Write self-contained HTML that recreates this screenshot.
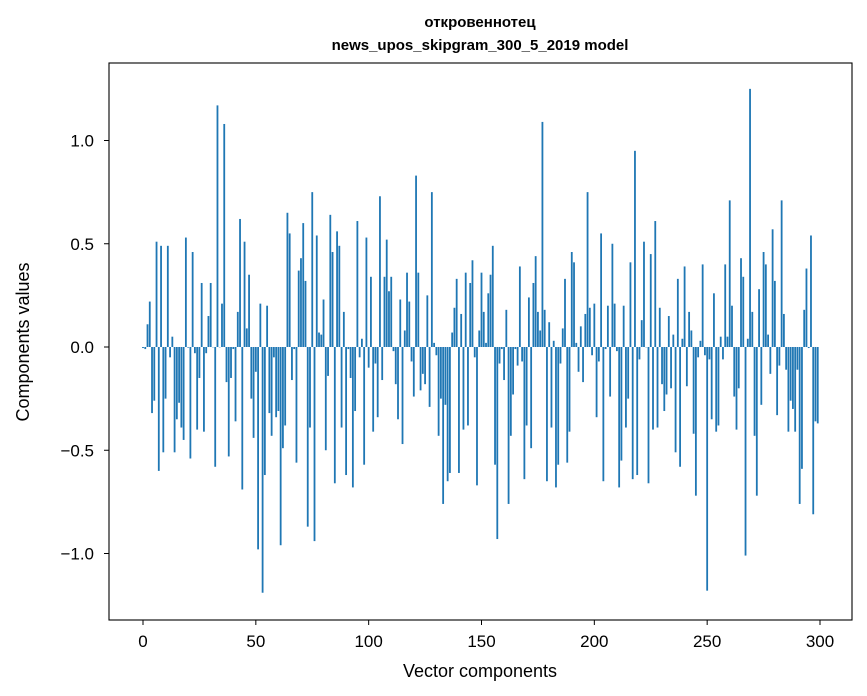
<!DOCTYPE html>
<html><head><meta charset="utf-8">
<style>
html,body{margin:0;padding:0;background:#fff;}
svg{display:block;font-family:"Liberation Sans","DejaVu Sans",sans-serif;}
</style></head>
<body>
<svg id="chart" width="867" height="696" viewBox="0 0 867 696" xmlns="http://www.w3.org/2000/svg">
<rect x="0" y="0" width="867" height="696" fill="#fff"/>
<g id="bars"></g>
<g id="axes"></g>
<text x="480" y="27" text-anchor="middle" font-size="15" font-weight="bold">откровеннотец</text>
<text x="480" y="50" text-anchor="middle" font-size="15" font-weight="bold">news_upos_skipgram_300_5_2019 model</text>
<text x="480" y="677" text-anchor="middle" font-size="18">Vector components</text>
<text transform="translate(29,342) rotate(-90)" text-anchor="middle" font-size="18">Components values</text>
</svg>
<script>
const values = [
-0.005,-0.01,0.11,0.22,-0.32,-0.26,0.51,-0.60,0.49,-0.51,
-0.25,0.49,-0.05,0.05,-0.51,-0.35,-0.27,-0.39,-0.45,0.53,
-0.003,-0.54,0.46,-0.03,-0.40,-0.15,0.31,-0.41,-0.03,0.15,
0.31,0.0,-0.58,1.17,0.0,0.21,1.08,-0.17,-0.53,-0.15,
-0.01,-0.36,0.17,0.62,-0.69,0.51,0.09,0.35,-0.25,-0.44,
-0.12,-0.98,0.21,-1.19,-0.62,0.20,-0.32,-0.43,-0.05,-0.34,
-0.31,-0.96,-0.49,-0.38,0.65,0.55,-0.16,-0.01,-0.56,0.37,
0.43,0.60,0.32,-0.87,-0.39,0.75,-0.94,0.54,0.07,0.06,
0.23,-0.50,-0.14,0.64,0.46,-0.66,0.56,0.49,-0.39,0.17,
-0.62,-0.01,-0.15,-0.68,-0.31,0.61,-0.05,0.04,-0.57,0.53,
-0.10,0.34,-0.41,-0.08,-0.34,0.73,-0.16,0.34,0.52,0.27,
0.34,-0.02,-0.18,-0.35,0.23,-0.47,0.08,0.36,0.22,-0.07,
-0.24,0.83,0.36,-0.21,-0.13,-0.18,0.25,-0.29,0.75,0.02,
-0.04,-0.43,-0.25,-0.76,-0.28,-0.65,-0.61,0.07,0.19,0.33,
-0.61,0.16,-0.40,0.36,-0.38,0.31,0.42,-0.05,-0.67,0.08,
0.36,0.17,0.02,0.26,0.35,0.49,-0.57,-0.93,-0.08,-0.01,
-0.16,0.18,-0.76,-0.43,-0.23,-0.01,-0.09,0.39,-0.07,-0.64,
-0.38,0.24,-0.49,0.31,0.44,0.17,0.08,1.09,0.18,-0.65,
0.12,-0.39,0.03,-0.68,-0.57,-0.08,0.09,0.33,-0.56,-0.41,
0.46,0.41,0.02,-0.12,0.10,-0.17,0.16,0.75,0.19,-0.04,
0.21,-0.34,-0.07,0.55,-0.65,-0.01,0.20,-0.24,0.50,0.21,
-0.02,-0.68,-0.55,0.20,-0.39,-0.25,0.41,-0.64,0.95,-0.62,
-0.06,0.13,0.51,0.0,-0.66,0.45,-0.40,0.61,-0.39,0.19,
-0.18,-0.31,-0.23,0.15,-0.20,0.06,-0.51,0.33,-0.58,0.04,
0.39,-0.19,0.17,0.08,-0.42,-0.72,-0.05,0.03,0.40,-0.04,
-1.18,-0.06,-0.35,0.26,-0.41,-0.38,0.05,-0.06,0.40,0.05,
0.71,0.20,-0.24,-0.40,-0.20,0.43,0.34,-1.01,0.04,1.25,
0.17,-0.43,-0.72,0.28,-0.28,0.46,0.40,0.06,-0.13,0.57,
0.32,-0.33,-0.09,0.71,0.16,-0.11,-0.41,-0.26,-0.30,-0.41,
-0.11,-0.76,-0.59,0.18,0.38,-0.005,0.54,-0.81,-0.36,-0.37
];
const xTicks = [0,50,100,150,200,250,300];
const yTicks = [-1.0,-0.5,0.0,0.5,1.0];
const yTickLabels = ["\u22121.0","\u22120.5","0.0","0.5","1.0"];

const NS = "http://www.w3.org/2000/svg";
const plot = {left:109, right:852, top:63, bottom:620};
function xs(v){ return 143 + (v/300)*677; }
function ys(v){ return 347 - v*206.5; }

const barsG = document.getElementById('bars');
values.forEach((v,i)=>{
  const r = document.createElementNS(NS,'rect');
  const w = 0.8*677/300;
  const y0 = ys(0), y1 = ys(v);
  r.setAttribute('x', xs(i)-w/2);
  r.setAttribute('width', w);
  r.setAttribute('y', Math.min(y0,y1));
  r.setAttribute('height', Math.max(Math.abs(y1-y0),0.3));
  r.setAttribute('fill','#1f77b4');
  
  
  barsG.appendChild(r);
});

const axesG = document.getElementById('axes');
const frame = document.createElementNS(NS,'rect');
frame.setAttribute('x',plot.left);frame.setAttribute('y',plot.top);
frame.setAttribute('width',plot.right-plot.left);frame.setAttribute('height',plot.bottom-plot.top);
frame.setAttribute('fill','none');frame.setAttribute('stroke','#000');frame.setAttribute('stroke-width','1.1');


axesG.appendChild(frame);

xTicks.forEach(t=>{
  const x = xs(t);
  const l = document.createElementNS(NS,'line');
  l.setAttribute('x1',x);l.setAttribute('x2',x);l.setAttribute('y1',plot.bottom);l.setAttribute('y2',plot.bottom+5);
  l.setAttribute('stroke','#000');
  
  
  axesG.appendChild(l);
  const tx = document.createElementNS(NS,'text');
  tx.setAttribute('x',x);tx.setAttribute('y',plot.bottom+27);
  tx.setAttribute('text-anchor','middle');tx.setAttribute('font-size','17');
  tx.textContent = t;
  
  
  axesG.appendChild(tx);
});
yTicks.forEach((t,i)=>{
  const y = ys(t);
  const l = document.createElementNS(NS,'line');
  l.setAttribute('x1',plot.left-5);l.setAttribute('x2',plot.left);l.setAttribute('y1',y);l.setAttribute('y2',y);
  l.setAttribute('stroke','#000');
  
  
  axesG.appendChild(l);
  const tx = document.createElementNS(NS,'text');
  tx.setAttribute('x',plot.left-15);tx.setAttribute('y',y+6);
  tx.setAttribute('text-anchor','end');tx.setAttribute('font-size','17');
  tx.textContent = yTickLabels[i];
  
  
  axesG.appendChild(tx);
});
</script>
</body></html>
